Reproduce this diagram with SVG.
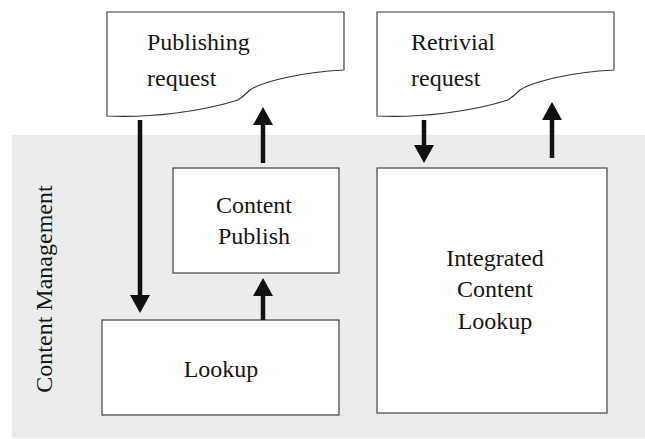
<svg xmlns="http://www.w3.org/2000/svg" width="645" height="439" viewBox="0 0 645 439">
<style>
.box{fill:#fff;stroke:#444;stroke-width:1.2}
.doc{fill:#fff;stroke:#333;stroke-width:1.1}
.t{font-family:"Liberation Serif","Times New Roman",serif;font-size:24px;fill:#151515}
.c{text-anchor:middle}
.arr{stroke:#111;stroke-width:4.5;fill:none;marker-end:url(#ah)}
</style>
<defs>
<marker id="ah" markerUnits="userSpaceOnUse" markerWidth="18" markerHeight="20" refX="2" refY="10" orient="auto" viewBox="0 0 18 20">
<path d="M0,0 L18,10 L0,20 Z" fill="#111"/>
</marker>
</defs>
<rect x="12" y="135" width="633" height="303" fill="#ebecec"/>
<text class="t c" transform="translate(52,289) rotate(-90)">Content Management</text>
<g id="publishing-request">
<path class="doc" d="M107,12 H344 V70 C300,72 262,82 250,90 Q244,96 238,100 C200,112 150,118 107,116 Z"/>
<text class="t" x="147" y="50">Publishing</text>
<text class="t" x="147" y="86">request</text>
</g>
<g id="retrivial-request">
<path class="doc" d="M377,12 H614 V70 C570,72 532,82 520,90 Q514,96 508,100 C470,112 420,118 377,116 Z"/>
<text class="t" x="411" y="50">Retrivial</text>
<text class="t" x="411" y="86">request</text>
</g>
<g id="content-publish">
<rect class="box" x="173" y="168" width="166" height="105"/>
<text class="t c" x="254" y="213">Content</text>
<text class="t c" x="254" y="244">Publish</text>
</g>
<g id="lookup">
<rect class="box" x="102" y="320" width="237" height="95"/>
<text class="t c" x="221" y="377">Lookup</text>
</g>
<g id="integrated-content-lookup">
<rect class="box" x="377" y="168" width="230" height="245"/>
<text class="t c" x="495" y="266">Integrated</text>
<text class="t c" x="495" y="297">Content</text>
<text class="t c" x="495" y="329">Lookup</text>
</g>
<g id="connectors">
<line class="arr" x1="140" y1="120" x2="140" y2="297"/>
<line class="arr" x1="263" y1="320" x2="263" y2="294"/>
<line class="arr" x1="263" y1="163" x2="263" y2="123"/>
<line class="arr" x1="424" y1="120" x2="424" y2="147"/>
<line class="arr" x1="552" y1="158" x2="552" y2="118"/>
</g>
</svg>
